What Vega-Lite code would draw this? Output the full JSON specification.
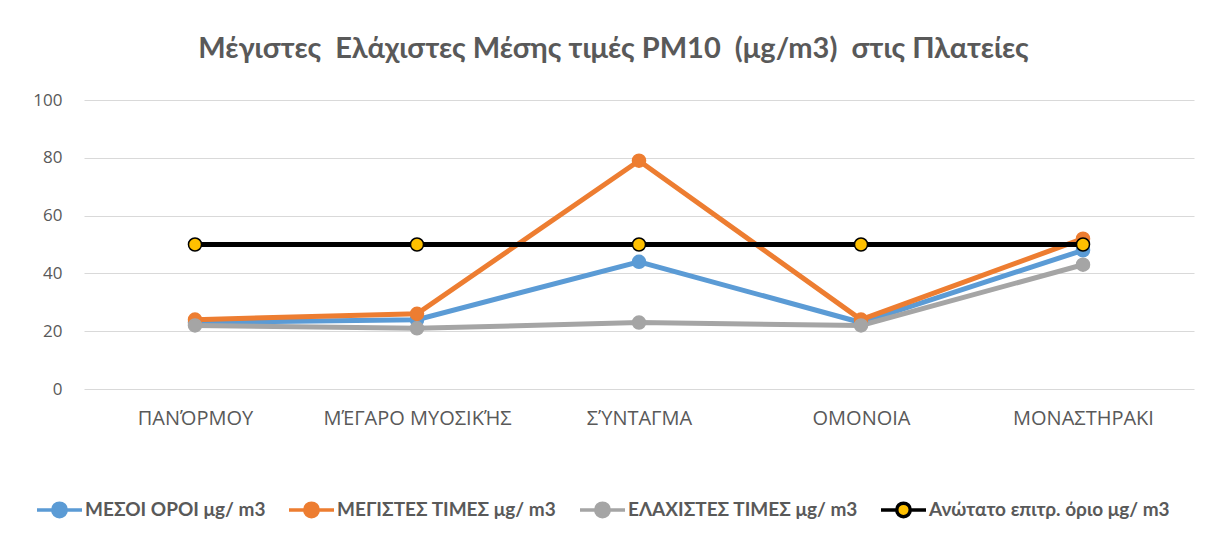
{
  "$schema": "https://vega.github.io/schema/vega-lite/v6.json",
  "width": 1110,
  "height": 289,
  "autosize": {"type": "none"},
  "padding": {"left": 84, "top": 100, "right": 32, "bottom": 156},
  "background": "white",
  "title": {
    "text": "Μέγιστες\u00a0 Ελάχιστες Μέσης τιμές PM10\u00a0 (μg/m3)\u00a0 στις Πλατείες",
    "font": "Lato",
    "fontSize": 29,
    "fontWeight": "bold",
    "color": "#595959",
    "offset": 27,
    "frame": "bounds",
    "anchor": "middle"
  },
  "config": {
    "view": {"stroke": null},
    "font": "Lato"
  },
  "data": {
    "values": [
      {"i": 0, "place": "ΠΑΝΌΡΜΟΥ", "series": "ΜΕΣΟΙ ΟΡΟΙ μg/ m3", "value": 23},
      {"i": 1, "place": "ΜΈΓΑΡΟ ΜΥΟΣΙΚΉΣ", "series": "ΜΕΣΟΙ ΟΡΟΙ μg/ m3", "value": 24},
      {"i": 2, "place": "ΣΎΝΤΑΓΜΑ", "series": "ΜΕΣΟΙ ΟΡΟΙ μg/ m3", "value": 44},
      {"i": 3, "place": "ΟΜΟΝΟΙΑ", "series": "ΜΕΣΟΙ ΟΡΟΙ μg/ m3", "value": 23},
      {"i": 4, "place": "ΜΟΝΑΣΤΗΡΑΚΙ", "series": "ΜΕΣΟΙ ΟΡΟΙ μg/ m3", "value": 48},
      {"i": 0, "place": "ΠΑΝΌΡΜΟΥ", "series": "ΜΕΓΙΣΤΕΣ ΤΙΜΕΣ μg/ m3", "value": 24},
      {"i": 1, "place": "ΜΈΓΑΡΟ ΜΥΟΣΙΚΉΣ", "series": "ΜΕΓΙΣΤΕΣ ΤΙΜΕΣ μg/ m3", "value": 26},
      {"i": 2, "place": "ΣΎΝΤΑΓΜΑ", "series": "ΜΕΓΙΣΤΕΣ ΤΙΜΕΣ μg/ m3", "value": 79},
      {"i": 3, "place": "ΟΜΟΝΟΙΑ", "series": "ΜΕΓΙΣΤΕΣ ΤΙΜΕΣ μg/ m3", "value": 24},
      {"i": 4, "place": "ΜΟΝΑΣΤΗΡΑΚΙ", "series": "ΜΕΓΙΣΤΕΣ ΤΙΜΕΣ μg/ m3", "value": 52},
      {"i": 0, "place": "ΠΑΝΌΡΜΟΥ", "series": "ΕΛΑΧΙΣΤΕΣ ΤΙΜΕΣ μg/ m3", "value": 22},
      {"i": 1, "place": "ΜΈΓΑΡΟ ΜΥΟΣΙΚΉΣ", "series": "ΕΛΑΧΙΣΤΕΣ ΤΙΜΕΣ μg/ m3", "value": 21},
      {"i": 2, "place": "ΣΎΝΤΑΓΜΑ", "series": "ΕΛΑΧΙΣΤΕΣ ΤΙΜΕΣ μg/ m3", "value": 23},
      {"i": 3, "place": "ΟΜΟΝΟΙΑ", "series": "ΕΛΑΧΙΣΤΕΣ ΤΙΜΕΣ μg/ m3", "value": 22},
      {"i": 4, "place": "ΜΟΝΑΣΤΗΡΑΚΙ", "series": "ΕΛΑΧΙΣΤΕΣ ΤΙΜΕΣ μg/ m3", "value": 43},
      {"i": 0, "place": "ΠΑΝΌΡΜΟΥ", "series": "Ανώτατο επιτρ. όριο μg/ m3", "value": 50},
      {"i": 1, "place": "ΜΈΓΑΡΟ ΜΥΟΣΙΚΉΣ", "series": "Ανώτατο επιτρ. όριο μg/ m3", "value": 50},
      {"i": 2, "place": "ΣΎΝΤΑΓΜΑ", "series": "Ανώτατο επιτρ. όριο μg/ m3", "value": 50},
      {"i": 3, "place": "ΟΜΟΝΟΙΑ", "series": "Ανώτατο επιτρ. όριο μg/ m3", "value": 50},
      {"i": 4, "place": "ΜΟΝΑΣΤΗΡΑΚΙ", "series": "Ανώτατο επιτρ. όριο μg/ m3", "value": 50}
    ]
  },
  "encoding": {
    "x": {
      "field": "place",
      "type": "nominal",
      "sort": ["ΠΑΝΌΡΜΟΥ", "ΜΈΓΑΡΟ ΜΥΟΣΙΚΉΣ", "ΣΎΝΤΑΓΜΑ", "ΟΜΟΝΟΙΑ", "ΜΟΝΑΣΤΗΡΑΚΙ"],
      "scale": {"type": "point", "padding": 0.5},
      "axis": {
        "title": null,
        "domain": false,
        "ticks": false,
        "labelAngle": 0,
        "labelFont": "Open Sans",
        "labelFontSize": 20,
        "labelColor": "#595959",
        "labelPadding": 19,
        "labelLimit": 400,
        "labelOverlap": false,
        "grid": false
      }
    },
    "y": {
      "field": "value",
      "type": "quantitative",
      "scale": {"domain": [0, 100]},
      "axis": {
        "title": null,
        "domain": false,
        "ticks": false,
        "values": [0, 20, 40, 60, 80, 100],
        "labelFont": "Open Sans",
        "labelFontSize": 17,
        "labelColor": "#595959",
        "labelPadding": 22,
        "gridColor": "#D9D9D9",
        "gridWidth": 1.2
      }
    }
  },
  "layer": [
    {
      "mark": {"type": "line", "strokeWidth": 5},
      "encoding": {
        "stroke": {
          "field": "series",
          "type": "nominal",
          "scale": {
            "domain": ["ΜΕΣΟΙ ΟΡΟΙ μg/ m3", "ΜΕΓΙΣΤΕΣ ΤΙΜΕΣ μg/ m3", "ΕΛΑΧΙΣΤΕΣ ΤΙΜΕΣ μg/ m3", "Ανώτατο επιτρ. όριο μg/ m3"],
            "range": ["#5B9BD5", "#ED7D31", "#A5A5A5", "#000000"]
          },
          "legend": {
            "title": null,
            "orient": "none",
            "legendX": -49,
            "legendY": 385,
            "direction": "horizontal",
            "columns": 4,
            "columnPadding": 16,
            "symbolType": "M-1,0 L-0.3,0 M0.3,0 L1,0 M-0.3,0 A0.3,0.3 0 1,0 0.3,0 A0.3,0.3 0 1,0 -0.3,0 Z",
            "symbolSize": 2025,
            "symbolStrokeWidth": 3.5,
            "labelFont": "Lato",
            "labelFontSize": 19,
            "labelFontWeight": "bold",
            "labelColor": "#595959",
            "labelOffset": 1,
            "labelLimit": 400
          }
        },
        "order": {"field": "i", "type": "quantitative"}
      }
    },
    {
      "mark": {"type": "point", "filled": true, "size": 170, "opacity": 1, "strokeWidth": 1.5},
      "encoding": {
        "stroke": {"field": "series", "type": "nominal"},
        "fill": {
          "field": "series",
          "type": "nominal",
          "scale": {
            "domain": ["ΜΕΣΟΙ ΟΡΟΙ μg/ m3", "ΜΕΓΙΣΤΕΣ ΤΙΜΕΣ μg/ m3", "ΕΛΑΧΙΣΤΕΣ ΤΙΜΕΣ μg/ m3", "Ανώτατο επιτρ. όριο μg/ m3"],
            "range": ["#5B9BD5", "#ED7D31", "#A5A5A5", "#FFC000"]
          },
          "legend": {
            "title": null,
            "orient": "none",
            "legendX": -49,
            "legendY": 385,
            "direction": "horizontal",
            "columns": 4,
            "columnPadding": 16,
            "symbolType": "M-1,0 L-0.3,0 M0.3,0 L1,0 M-0.3,0 A0.3,0.3 0 1,0 0.3,0 A0.3,0.3 0 1,0 -0.3,0 Z",
            "symbolSize": 2025,
            "symbolStrokeWidth": 3.5,
            "labelFont": "Lato",
            "labelFontSize": 19,
            "labelFontWeight": "bold",
            "labelColor": "#595959",
            "labelOffset": 1,
            "labelLimit": 400
          }
        }
      }
    }
  ]
}
